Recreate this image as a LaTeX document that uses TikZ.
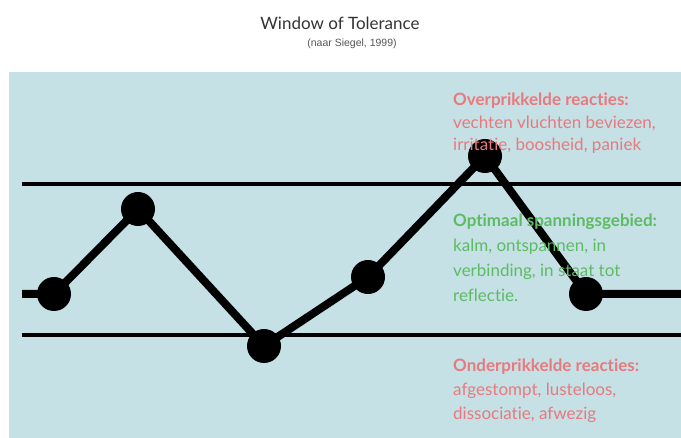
\documentclass[tikz,border=0pt]{standalone}
\usepackage{fontspec}
\setmainfont{Lato}[Ligatures=NoCommon]
\newfontfamily\arialfont{Liberation Sans}
\definecolor{panelblue}{HTML}{C5E1E6}
\definecolor{overred}{HTML}{E8797D}
\definecolor{optgreen}{HTML}{5DBB63}
\definecolor{titlegray}{HTML}{333333}
\definecolor{subgray}{HTML}{555555}
\tikzset{
  dot/.style={circle, fill=black, inner sep=0pt, minimum size=34pt},
  pathline/.style={line width=8pt, black},
  limitline/.style={line width=4pt, black},
  blocktext/.style={anchor=base west, align=left, inner sep=0pt},
}
\begin{document}
\begin{tikzpicture}[x=1pt,y=-1pt]
\useasboundingbox (0,0) rectangle (681,438);
\fill[panelblue] (9,72) rectangle (681,438);
% title
\node[anchor=base, inner sep=0pt, text=titlegray, font=\fontsize{17}{20}\selectfont] (title) at (340,30) {Window of Tolerance};
\node[anchor=base, inner sep=0pt, text=subgray, font=\arialfont\fontsize{10.5}{12}\selectfont] (sub) at (352,47) {(naar Siegel, 1999)};
% limit lines
\coordinate (ul) at (22,184);
\coordinate (ur) at (681,184);
\coordinate (ll) at (22,335);
\coordinate (lr) at (681,335);
\draw[limitline] (ul) -- (ur);
\draw[limitline] (ll) -- (lr);
% path
\coordinate (s) at (22,294);
\coordinate (e) at (681,294);
\node[dot] (n1) at (54,294) {};
\node[dot] (n2) at (138,209) {};
\node[dot] (n3) at (264,346) {};
\node[dot] (n4) at (368,277) {};
\node[dot] (n5) at (485,156) {};
\node[dot] (n6) at (586,294) {};
\draw[pathline] (s) -- (n1.center) -- (n2.center) -- (n3.center) -- (n4.center) -- (n5.center) -- (n6.center) -- (e);
% texts (base anchor = last line's baseline)
\node[blocktext, text=overred, font=\fontsize{17}{22.5}\selectfont] (over) at (453,151)
  {\textbf{Overprikkelde reacties:}\\vechten vluchten beviezen,\\irritatie, boosheid, paniek};
\node[blocktext, text=optgreen, font=\fontsize{17}{25}\selectfont] (opt) at (453,302)
  {\textbf{Optimaal spanningsgebied:}\\kalm, ontspannen, in\\verbinding, in staat tot\\reflectie.};
\node[blocktext, text=overred, font=\fontsize{17}{24}\selectfont] (under) at (453,420)
  {\textbf{Onderprikkelde reacties:}\\afgestompt, lusteloos,\\dissociatie, afwezig};
\end{tikzpicture}
\end{document}
